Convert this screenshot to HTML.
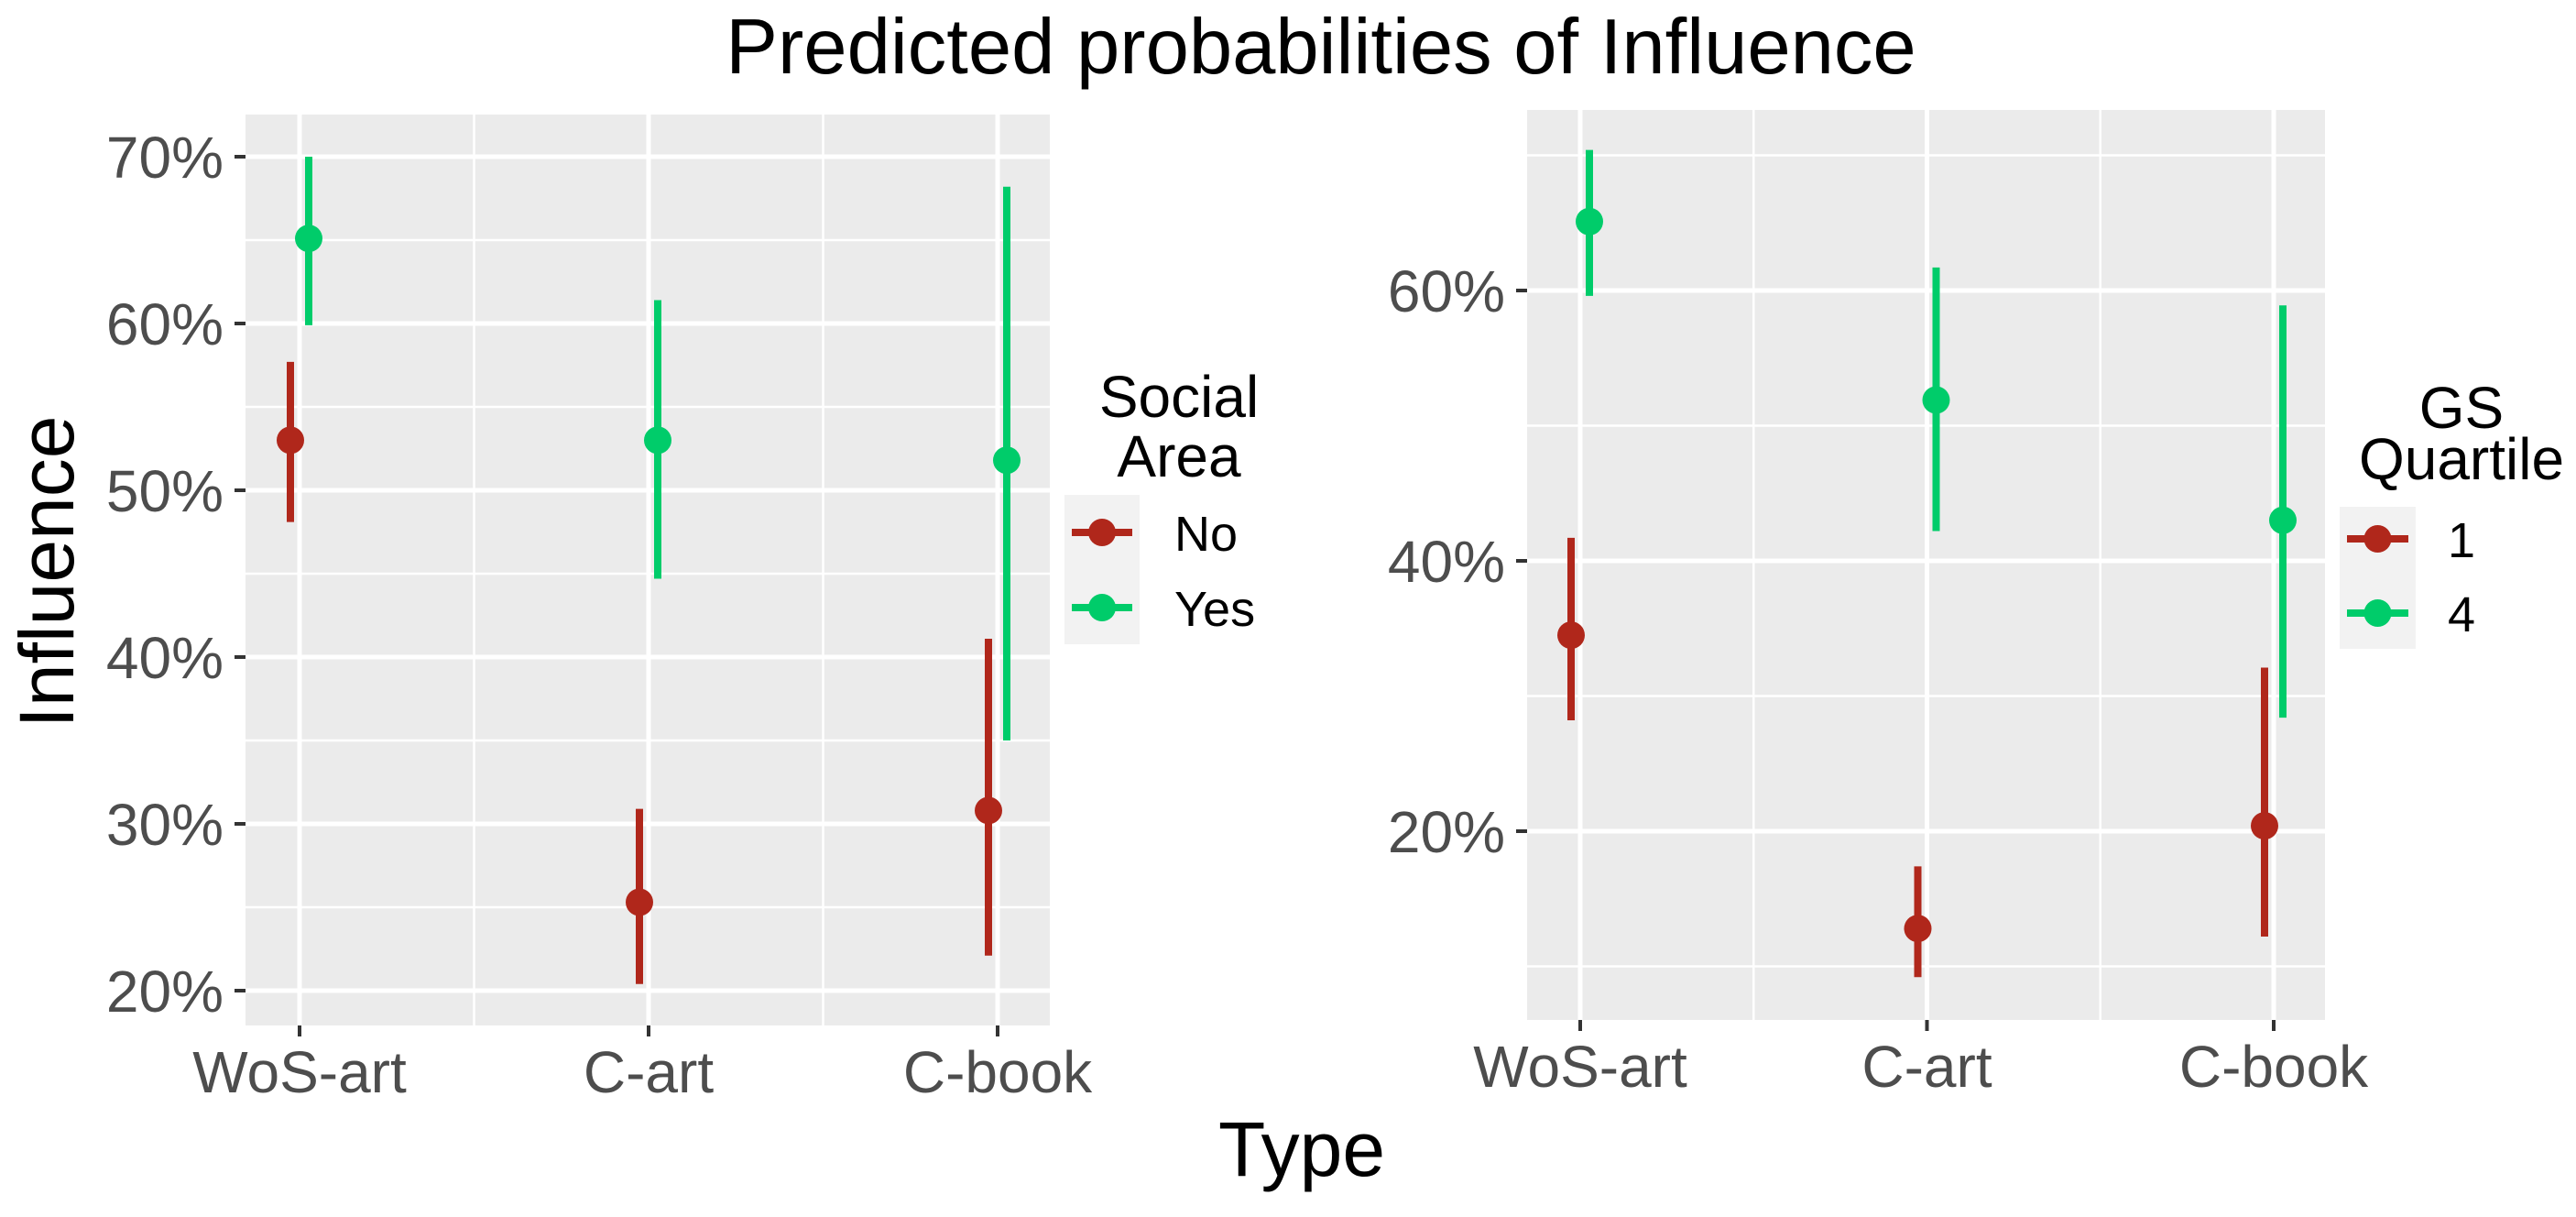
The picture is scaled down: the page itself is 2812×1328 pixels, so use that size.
<!DOCTYPE html>
<html><head><meta charset="utf-8"><style>
html,body{margin:0;padding:0;background:#fff;}
svg{display:block;font-family:"Liberation Sans",Arial,sans-serif;}
</style></head><body>
<svg id="chart" width="2812" height="1328" viewBox="0 0 2812 1328" xmlns="http://www.w3.org/2000/svg">
<text x="1442" y="80" font-size="85" text-anchor="middle" fill="#000">Predicted probabilities of Influence</text>
<text x="1421" y="1283" font-size="84" text-anchor="middle" fill="#000">Type</text>
<text transform="translate(80,624) rotate(-90)" font-size="84" text-anchor="middle" fill="#000">Influence</text>
<g id="p1"></g>
<g id="p2"></g>
</svg>
<script>
const categories = ["WoS-art", "C-art", "C-book"];
// Left panel: Social Area
const leftGroups = ["No", "Yes"];
const leftNoEst = [53.0, 25.3, 30.8];
const leftNoLow = [48.1, 20.4, 22.1];
const leftNoHigh = [57.7, 30.9, 41.1];
const leftYesEst = [65.1, 53.0, 51.8];
const leftYesLow = [59.9, 44.7, 35.0];
const leftYesHigh = [70.0, 61.4, 68.2];
const leftTicks = [20, 30, 40, 50, 60, 70];
const leftTickLabels = ["20%", "30%", "40%", "50%", "60%", "70%"];
// Right panel: GS Quartile
const rightGroups = ["1", "4"];
const rightQ1Est = [34.5, 12.8, 20.4];
const rightQ1Low = [28.2, 9.2, 12.2];
const rightQ1High = [41.7, 17.4, 32.1];
const rightQ4Est = [65.1, 51.9, 43.0];
const rightQ4Low = [59.6, 42.2, 28.4];
const rightQ4High = [70.4, 61.7, 58.9];
const rightTicks = [20, 40, 60];
const rightTickLabels = ["20%", "40%", "60%"];

const NS = "http://www.w3.org/2000/svg";
const RED = "#B0271B", GREEN = "#00CC6A";
function mk(parent, tag, attrs, text) {
  const e = document.createElementNS(NS, tag);
  for (const k in attrs) e.setAttribute(k, attrs[k]);
  if (text !== undefined) e.textContent = text;
  parent.appendChild(e);
  return e;
}
function drawPanel(g, cfg) {
  const y = v => cfg.y0 + (cfg.v0 - v) * cfg.ppu;
  const x = i => cfg.xc0 + i * cfg.step;
  const bg = mk(g, "rect", {x: cfg.left, y: cfg.top, width: cfg.right - cfg.left, height: cfg.bottom - cfg.top, fill: "#EBEBEB"});
  
  
  for (let v = cfg.minorStart; v <= cfg.minorEnd; v += cfg.tickStep) {
    const yy = y(v);
    if (yy < cfg.top || yy > cfg.bottom) continue;
    const l = mk(g, "line", {x1: cfg.left, x2: cfg.right, y1: yy, y2: yy, stroke: "#fff", "stroke-width": 2.5});
    
    
  }
  for (let i = 0; i < categories.length - 1; i++) {
    const xx = x(i + 0.5);
    const l = mk(g, "line", {x1: xx, x2: xx, y1: cfg.top, y2: cfg.bottom, stroke: "#fff", "stroke-width": 2.5});
    
    
  }
  cfg.ticks.forEach((v, i) => {
    const yy = y(v);
    const l = mk(g, "line", {x1: cfg.left, x2: cfg.right, y1: yy, y2: yy, stroke: "#fff", "stroke-width": 5});
    
    
    const t = mk(g, "line", {x1: cfg.left - 12, x2: cfg.left, y1: yy, y2: yy, stroke: "#333", "stroke-width": 4});
    
    
    const tx = mk(g, "text", {x: cfg.left - 24, y: yy + 23, "font-size": 64, "text-anchor": "end", fill: "#4D4D4D"}, cfg.tickLabels[i]);
    
    
  });
  categories.forEach((c, i) => {
    const xx = x(i);
    const l = mk(g, "line", {x1: xx, x2: xx, y1: cfg.top, y2: cfg.bottom, stroke: "#fff", "stroke-width": 5});
    
    
    const t = mk(g, "line", {x1: xx, x2: xx, y1: cfg.bottom, y2: cfg.bottom + 12, stroke: "#333", "stroke-width": 4});
    
    
    const tx = mk(g, "text", {x: xx, y: cfg.bottom + 73, "font-size": 64, "text-anchor": "middle", fill: "#4D4D4D"}, c);
    
    
  });
  cfg.series.forEach((s, si) => {
    const off = si === 0 ? -10 : 10;
    categories.forEach((c, i) => {
      const xx = x(i) + off;
      const l = mk(g, "line", {x1: xx, x2: xx, y1: y(s.high[i]), y2: y(s.low[i]), stroke: s.color, "stroke-width": 8});
      
      
      const p = mk(g, "circle", {cx: xx, cy: y(s.est[i]), r: 15, fill: s.color});
      
      
    });
  });
  const L = cfg.legend;
  L.title.forEach((t, i) => {
    const e = mk(g, "text", {x: L.tx, y: L.ty[i], "font-size": 64, "text-anchor": "middle", fill: "#000"}, t);
    
    
  });
  const kb = mk(g, "rect", {x: L.kx, y: L.ky, width: L.kw, height: L.kh, fill: "#F2F2F2"});
  
  
  cfg.series.forEach((s, si) => {
    const cy = L.iy[si];
    const l = mk(g, "line", {x1: L.kx + 8, x2: L.kx + L.kw - 8, y1: cy, y2: cy, stroke: s.color, "stroke-width": 8});
    
    
    const p = mk(g, "circle", {cx: L.kx + L.kw / 2, cy: cy, r: 15, fill: s.color});
    
    
    const tx = mk(g, "text", {x: L.lx, y: cy + 20, "font-size": 54, fill: "#000"}, cfg.groups[si]);
    
    
  });
}
drawPanel(document.getElementById('p1'), {
  left: 268, right: 1146, top: 125, bottom: 1119,
  y0: 171, v0: 70, ppu: 18.2, xc0: 327, step: 381,
  ticks: leftTicks, tickLabels: leftTickLabels, tickStep: 10, minorStart: 15, minorEnd: 75,
  groups: leftGroups,
  series: [
    {est: leftNoEst, low: leftNoLow, high: leftNoHigh, color: RED},
    {est: leftYesEst, low: leftYesLow, high: leftYesHigh, color: GREEN}
  ],
  legend: {title: ["Social", "Area"], tx: 1287, ty: [455, 520], kx: 1162, ky: 540, kw: 82, kh: 163, iy: [581, 663], lx: 1282}
});
drawPanel(document.getElementById('p2'), {
  left: 1667, right: 2538, top: 120, bottom: 1113,
  y0: 317, v0: 60, ppu: 14.75, xc0: 1725, step: 378.5,
  ticks: rightTicks, tickLabels: rightTickLabels, tickStep: 20, minorStart: 10, minorEnd: 70,
  groups: rightGroups,
  series: [
    {est: rightQ1Est, low: rightQ1Low, high: rightQ1High, color: RED},
    {est: rightQ4Est, low: rightQ4Low, high: rightQ4High, color: GREEN}
  ],
  legend: {title: ["GS", "Quartile"], tx: 2687, ty: [467, 523], kx: 2554, ky: 553, kw: 83, kh: 155, iy: [588, 669], lx: 2672}
});
</script>
</body></html>
